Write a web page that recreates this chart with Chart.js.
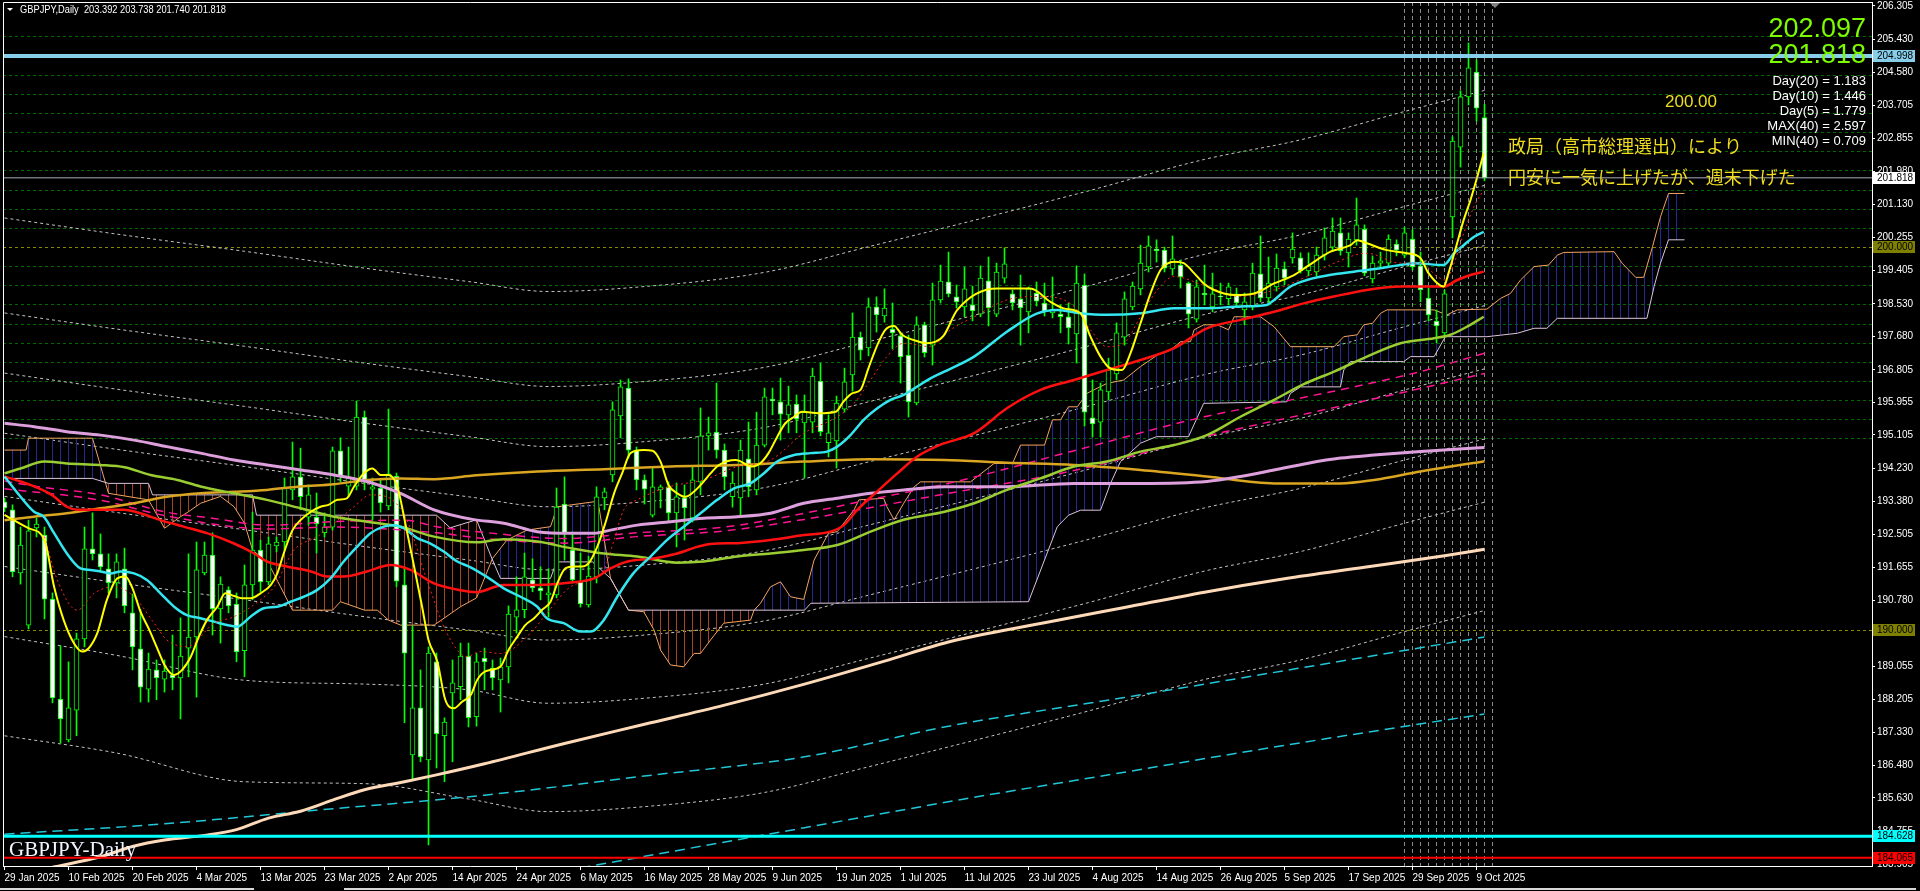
<!DOCTYPE html>
<html>
<head>
<meta charset="utf-8">
<script src="https://cdn.jsdelivr.net/npm/chart.js@4.4.1/dist/chart.umd.min.js"></script>
<style>
html, body { margin: 0; padding: 0; background: #000; }
canvas { display: block; }
</style>
</head>
<body>
<canvas id="chartCanvas" width="1920" height="891"></canvas>
<script>
// ---- candles (one per trading day, index 0 = 29 Jan 2025) ----
const opens = [193.36,193.15,191.50,190.14,192.68,192.49,190.82,188.21,187.14,187.92,189.78,192.13,192.00,191.61,191.24,191.61,190.46,189.52,188.47,188.97,
188.73,188.84,188.76,189.54,189.83,191.50,191.97,190.56,191.06,190.69,189.47,191.19,192.10,191.27,192.21,192.31,193.67,194.01,192.96,192.96,
192.55,192.70,194.69,193.77,193.77,195.57,193.69,193.72,193.25,194.03,191.19,186.75,187.98,186.62,189.18,187.25,188.37,188.53,189.33,187.75,
189.28,189.02,188.71,189.05,190.35,190.54,191.32,191.11,190.93,190.93,193.30,192.10,191.27,190.67,191.40,193.46,194.06,195.60,196.33,194.71,
193.93,193.01,193.67,193.75,193.07,193.46,192.94,193.88,195.08,195.18,194.71,193.49,193.46,194.48,193.67,194.84,196.04,195.97,195.63,195.91,
195.42,195.44,196.51,194.90,194.95,195.78,196.67,197.66,197.38,198.45,198.21,197.87,197.69,197.19,195.94,197.98,197.45,198.63,199.10,198.71,
198.45,198.50,198.26,199.13,198.26,199.20,198.79,198.66,198.32,198.81,198.55,198.29,198.26,198.19,197.74,199.02,195.55,195.44,196.23,196.70,
197.66,198.45,198.92,199.49,199.96,199.93,199.44,199.54,199.07,198.13,198.81,198.45,198.73,198.66,198.79,198.37,198.45,199.31,198.68,198.97,
199.44,199.73,199.73,199.39,199.36,199.80,200.01,200.38,199.86,200.20,200.48,199.18,199.59,199.59,200.09,199.80,200.22,199.52,198.68,198.08,
197.77,200.80,202.62,203.93,204.58,203.392];
const highs = [193.46,193.28,192.70,192.88,192.94,192.70,190.98,189.60,189.18,189.93,192.70,193.07,192.52,192.00,192.00,192.15,190.95,190.54,189.41,189.23,
189.23,189.88,190.33,192.00,192.31,192.31,192.55,191.40,191.14,190.98,191.71,193.09,192.36,192.44,192.44,193.98,194.92,194.76,193.80,193.59,
193.07,194.79,195.03,194.79,195.99,195.73,193.98,193.93,195.78,194.11,191.66,190.12,188.97,189.57,189.41,187.72,189.23,189.67,189.67,189.40,
189.54,189.23,189.28,190.64,191.40,192.02,191.87,191.66,191.61,193.72,194.01,192.57,192.02,191.94,193.75,193.72,195.97,196.54,196.57,194.79,
194.06,194.27,193.80,193.88,193.85,193.80,194.27,195.81,195.57,196.46,194.87,194.14,194.97,195.44,195.70,196.33,196.33,196.59,196.38,196.15,
196.15,196.85,196.98,195.63,196.12,196.85,198.29,197.79,198.68,198.71,198.92,198.55,197.79,197.71,198.19,198.05,199.07,199.54,199.88,199.02,
199.49,198.99,199.52,199.75,199.59,199.99,198.89,199.28,198.97,199.10,199.07,199.23,198.50,198.55,199.52,199.31,196.54,196.46,197.11,198.03,
198.84,199.10,200.06,200.30,200.20,200.01,200.30,199.67,199.10,199.15,199.54,199.33,199.07,199.07,198.94,198.81,199.59,200.30,199.75,199.83,
199.62,200.38,199.86,199.86,200.01,200.51,200.77,200.77,200.38,201.29,200.59,199.78,199.88,200.33,200.20,200.53,200.46,199.88,198.94,198.37,
198.89,202.89,204.09,205.34,204.90,203.738];
const lows = [193.10,191.40,191.21,190.04,192.44,190.30,188.11,187.06,187.09,187.25,189.57,191.84,191.53,190.98,190.85,190.46,188.97,188.13,188.13,188.19,
188.39,188.45,187.69,188.79,188.26,191.45,189.88,189.67,190.46,189.18,188.79,190.80,191.01,191.19,192.05,192.10,193.41,193.15,192.75,192.02,
192.44,192.62,193.88,193.49,193.67,193.67,192.88,193.09,193.15,191.14,187.59,186.10,186.57,184.40,186.41,186.05,186.57,188.19,187.48,187.50,
188.45,188.45,187.87,188.63,189.93,190.33,191.01,190.80,190.35,190.85,191.84,191.24,190.61,190.61,191.24,193.15,193.88,195.03,194.50,193.67,
193.30,192.96,193.20,192.83,192.18,192.36,192.83,193.54,194.71,194.50,193.67,193.22,193.01,193.49,193.54,194.79,195.63,194.97,195.16,195.16,
193.98,195.16,195.08,194.53,194.24,195.70,196.25,197.06,197.17,197.79,198.05,197.35,196.46,195.57,195.89,197.14,196.93,198.55,198.71,198.42,
198.19,198.08,198.19,197.95,198.19,199.07,198.37,197.45,197.77,198.47,198.21,198.16,197.77,197.48,196.98,195.34,195.05,195.05,196.02,196.54,
197.45,198.37,198.76,199.36,199.62,199.36,199.28,198.94,197.90,198.05,198.50,198.32,198.50,198.50,198.45,197.98,198.37,198.58,198.50,198.86,
199.02,199.59,199.33,199.26,199.26,199.67,199.91,199.80,199.49,200.06,199.26,199.07,199.49,199.52,199.78,199.73,199.41,198.58,198.08,197.51,
197.66,200.25,202.10,203.72,203.30,201.740];
const closes = [193.20,191.53,192.23,192.60,192.78,190.82,188.24,187.69,187.98,189.78,192.13,192.00,191.66,191.24,191.79,190.64,189.57,188.52,188.99,188.76,
188.94,188.76,189.33,189.83,191.58,191.97,190.56,191.21,190.64,189.44,191.19,192.10,191.27,192.26,192.31,193.72,194.01,193.49,193.54,192.78,
192.70,194.69,194.01,194.01,195.57,193.88,193.75,193.33,194.09,191.29,189.41,187.98,186.70,189.41,187.30,187.61,188.63,189.33,187.72,189.18,
189.18,188.76,189.05,190.43,190.54,191.40,191.11,191.03,190.98,193.22,192.55,191.32,190.69,191.42,193.49,193.62,195.76,196.36,194.71,193.93,
193.69,193.75,193.75,193.07,193.49,193.20,193.93,195.08,195.16,194.71,194.01,193.85,194.71,193.75,194.84,196.10,195.99,195.65,195.89,195.52,
195.70,196.64,195.19,195.16,195.94,196.49,197.66,197.32,198.45,198.24,198.42,197.77,197.14,195.97,197.98,197.25,198.63,199.12,198.79,198.58,
198.92,198.34,199.20,198.42,199.36,199.57,198.55,198.42,198.92,198.60,198.32,198.39,198.19,197.90,199.07,195.70,195.39,196.28,196.80,197.77,
198.66,198.99,199.59,200.04,199.91,199.46,199.70,199.23,198.26,198.97,198.76,198.79,198.71,198.97,198.55,198.58,199.33,198.68,199.07,199.46,
199.20,199.96,199.39,199.52,199.80,200.25,200.43,199.91,200.22,200.59,199.33,199.59,199.65,200.22,199.93,200.38,199.49,198.89,198.24,197.95,
198.79,202.78,203.93,204.69,203.64,201.818];

// ---- axis labels ----
const dateTickBars = [0,8,16,24,32,40,48,56,64,72,80,88,96,104,112,120,128,136,144,152,160,168,176,184];
const dateLabels = ['29 Jan 2025','10 Feb 2025','20 Feb 2025','4 Mar 2025','13 Mar 2025','23 Mar 2025','2 Apr 2025','14 Apr 2025',
  '24 Apr 2025','6 May 2025','16 May 2025','28 May 2025','9 Jun 2025','19 Jun 2025','1 Jul 2025','11 Jul 2025','23 Jul 2025',
  '4 Aug 2025','14 Aug 2025','26 Aug 2025','5 Sep 2025','17 Sep 2025','29 Sep 2025','9 Oct 2025'];
const priceTicks = [206.305,205.430,204.580,203.705,202.855,201.980,201.130,200.255,199.405,198.530,197.680,196.805,195.955,195.105,
  194.230,193.380,192.505,191.655,190.780,189.930,189.055,188.205,187.330,186.480,185.630,184.755,183.905];

// ---- moving averages, sampled as [bar, price] ----
const yellowMA = [[0,193.02],[3,192.67],[5,192.36],[6.2,191.14],[7.4,190.27],[8.7,189.66],[9.7,189.45],[10.5,189.53],[11.6,189.93],[12.8,190.80],
 [14.1,191.36],[15.1,191.41],[16,191.10],[17,190.49],[18,190.06],[19,189.58],[20.1,189.06],[21.2,188.84],[22.2,188.97],[23.3,189.32],[24.3,189.84],
 [25.3,190.27],[26.6,190.62],[27.6,190.97],[28.7,190.90],[29.7,190.84],[30.8,190.84],[32,190.97],[33.3,191.19],[34.1,191.49],[34.9,192.01],[36,192.62],
 [37,192.88],[38.3,193.10],[39.5,193.23],[40.5,193.28],[41.6,193.41],[42.8,193.45],[43.7,193.76],[44.9,194.10],[46,194.23],[47,194.06],[48,194.06],
 [49.1,193.76],[50.1,192.80],[51.2,191.67],[52.2,190.62],[53,189.75],[54.1,189.19],[55.1,188.19],[56.2,187.97],[57.2,188.14],[58.3,188.32],[59.1,188.71],
 [60.1,188.93],[62,189.06],[63,189.49],[64.1,189.84],[65.1,190.14],[66.2,190.32],[67.2,190.54],[68.25,190.75],[69.1,191.23],[70.1,191.62],[71.2,191.67],
 [72.2,191.67],[73,191.75],[74.1,192.19],[75.1,192.80],[76.2,193.58],[77.2,194.10],[78.25,194.63],[79.9,194.71],[81,194.69],[82,194.41],[83,193.80],
 [84.1,193.58],[85.1,193.49],[86.2,193.63],[87.2,193.84],[88.25,194.10],[89.3,194.32],[91.4,194.45],[93.5,194.28],[94.5,194.37],[95.5,194.63],
 [96.6,195.06],[97.6,195.41],[98.7,195.58],[99.7,195.71],[101.8,195.67],[103.9,195.71],[104.9,195.98],[105.95,196.19],[107,196.28],[108,196.85],
 [109.1,197.45],[110.1,197.85],[111.2,197.95],[112.2,197.72],[114.3,197.54],[115.3,197.50],[116.4,197.54],[117.4,197.70],[119.1,198.37],[124.1,198.93],
 [128.25,198.93],[130.75,198.58],[132.4,198.41],[134.5,198.28],[135.75,197.67],[137,197.15],[138.25,196.84],[139.7,196.80],[140.75,197.24],[142,198.02],
 [143.25,198.80],[144.5,199.41],[146.2,199.63],[147.4,199.59],[148.7,199.33],[149.9,199.06],[151.2,198.89],[153.7,198.76],[156.2,198.80],[158.7,199.06],
 [161.2,199.28],[162.8,199.50],[165.75,199.89],[168.25,200.06],[169.1,200.19],[170.3,200.11],[172.8,199.93],[175.3,199.85],[177,199.72],[178,199.33],
 [179.9,198.98],[180.5,199.33],[181.4,199.98],[182.4,200.72],[183.25,201.24],[184.1,201.85],[184.9,202.46]];
const redDotted = [[5,192.45],[6.6,191.32],[9.1,190.53],[11.2,190.97],[13.7,191.14],[16.2,190.88],[18.7,190.19],[20.3,189.75],[22.8,189.58],[26.2,190.19],
 [28.7,190.36],[32,190.80],[33.7,191.14],[36.2,192.10],[39.1,192.45],[41.2,192.80],[43.7,193.23],[45.75,193.54],[47.8,193.49],[50.3,192.88],[52.8,191.32],
 [55.3,189.93],[57.8,189.32],[59.5,189.45],[62,189.40],[65.75,189.93],[67.8,190.45],[70.75,191.14],[74.9,191.58],[76.2,192.36],[77.4,193.15],[79.1,193.41],
 [83.25,193.76],[87.4,193.93],[91.6,194.28],[95.75,194.45],[99.9,195.15],[104.1,195.58],[106.2,195.93],[108.25,196.54],[110.3,197.15],[112.4,197.50],
 [115.75,197.41],[118.25,197.85],[121.2,198.19],[125.3,198.63],[129.5,198.72],[133.7,198.46],[135.75,197.85],[137.8,197.41],[139.9,197.50],[142,198.19],
 [144.1,198.89],[146.2,199.24],[150.3,198.98],[154.5,198.72],[158.7,198.89],[162.8,199.24],[166.2,199.59],[170.3,199.85],[174.5,199.59],[177,199.59],
 [179.1,199.24],[180.1,199.15],[181.2,199.59],[182.4,200.37],[183.7,201.07],[184.9,201.50]];
const cyanMA = [[0,194.02],[2,193.49],[3.7,193.10],[4.9,192.97],[6.2,192.54],[7.8,192.01],[9.5,191.62],[10.75,191.58],[12,191.54],[13.25,191.49],
 [14.5,191.54],[16.2,191.49],[17.8,191.32],[19.5,190.97],[21.2,190.62],[22.8,190.40],[24.5,190.32],[26.2,190.23],[27.8,190.14],[29.1,190.10],[30.75,190.36],
 [32.4,190.58],[34.1,190.62],[35.75,190.75],[37.4,190.88],[39.1,191.06],[40.75,191.36],[42.4,191.80],[44.1,192.19],[45.75,192.54],[47.4,192.71],
 [48.7,192.75],[49.9,192.67],[51.6,192.41],[53.25,192.27],[54.9,192.06],[56.6,191.80],[58.25,191.65],[60.3,191.40],[62.4,191.10],[64.5,190.88],
 [66.6,190.62],[67.8,190.32],[69.9,190.19],[72,189.97],[73.25,189.97],[74.9,190.27],[76.6,190.88],[78.6,191.49],[80.75,191.93],[82.8,192.36],[84.9,192.71],
 [87,193.06],[89.1,193.41],[91.2,193.71],[93.25,193.84],[94.9,194.10],[96.6,194.41],[98.7,194.58],[100.75,194.63],[102.8,194.67],[104.1,194.80],
 [105.75,195.10],[107.4,195.50],[109.1,195.80],[110.75,196.02],[112.4,196.15],[114.1,196.37],[115.75,196.58],[117.4,196.75],[121.2,197.15],[125.3,197.80],
 [129.1,198.28],[131.6,198.37],[134.5,198.28],[137.8,198.24],[142,198.28],[146.2,198.41],[150.3,198.41],[154.5,198.46],[157.8,198.50],[158.7,198.63],
 [160.75,198.98],[162.8,199.15],[166.2,199.30],[170.3,199.41],[174.5,199.54],[176.2,199.59],[179.9,199.54],[181.2,199.85],[182.4,200.06],[183.7,200.28],
 [184.9,200.41]];
const redMA = [[0,194.02],[2,193.89],[3.7,193.76],[5.9,193.54],[7.8,193.23],[9.1,193.15],[14.9,193.15],[17,193.06],[19.5,192.88],[22.4,192.71],[25.3,192.54],
 [28.7,192.27],[31.2,192.01],[32.8,191.80],[35.3,191.67],[38.3,191.54],[40.3,191.41],[42.4,191.41],[45.3,191.54],[48.25,191.71],[50.75,191.58],
 [53.7,191.23],[57,191.05],[59,191.00],[62.4,191.19],[66.6,191.19],[70.75,191.25],[73.7,191.36],[75.75,191.62],[77.9,191.80],[81.2,191.88],[84.1,192.01],
 [86.7,192.19],[88.25,192.26],[91.6,192.28],[95.75,192.36],[99.9,192.49],[103.25,192.58],[104.9,192.75],[106.6,193.15],[109.1,193.63],[111.6,194.10],
 [114.1,194.54],[117,194.85],[121.2,195.15],[125.3,195.80],[129.5,196.28],[133.7,196.54],[137.8,196.80],[142,197.06],[146.2,197.37],[150.3,197.89],
 [154.5,198.11],[158.7,198.32],[162.4,198.54],[166.2,198.72],[170.3,198.89],[174.5,198.98],[179.9,198.98],[181.6,199.15],[183.25,199.28],[184.9,199.37]];
const greenMA = [[0,194.10],[2,194.23],[5,194.41],[7.8,194.36],[12,194.32],[15,194.26],[18.25,194.06],[21.6,193.93],[24.5,193.76],[28.7,193.58],[32.8,193.41],
 [37,193.19],[41.2,192.97],[45.3,192.84],[49.5,192.71],[53.7,192.45],[59,192.30],[62.4,192.38],[66.6,192.32],[70.75,192.15],[74.9,192.01],[79.1,191.93],
 [84.1,191.77],[87.4,191.80],[91.6,191.93],[95.75,192.01],[99.9,192.10],[104.1,192.23],[108.25,192.58],[112.4,192.89],[117.5,193.10],[121.2,193.32],
 [125.3,193.67],[129.5,193.97],[133.7,194.28],[137.8,194.41],[142,194.67],[146.2,194.84],[150.3,195.10],[154.5,195.58],[158.7,196.02],[162.4,196.43],
 [166.2,196.76],[170.3,197.15],[174.5,197.50],[178.7,197.63],[180.75,197.72],[182.8,197.93],[184.9,198.19]];
const plumMA = [[0,195.41],[3.7,195.32],[7.8,195.19],[12,195.10],[16.2,194.97],[20.3,194.80],[24.5,194.63],[28.7,194.45],[32.8,194.32],[37,194.19],
 [41.2,194.06],[45.3,193.89],[49.5,193.58],[53.7,193.15],[58.5,192.90],[62.4,192.80],[66.6,192.58],[70.75,192.54],[73.7,192.54],[75.75,192.62],
 [79.1,192.75],[83.25,192.84],[87.4,192.93],[91.6,192.97],[95.75,193.06],[99.9,193.32],[104.1,193.45],[108.25,193.58],[112.4,193.67],[117.5,193.75],
 [125.3,193.75],[133.7,193.84],[142,193.84],[150.3,193.89],[154.5,194.02],[158.7,194.19],[162.8,194.36],[167,194.50],[171.2,194.58],[177,194.67],[185,194.78]];
const orangeMA = [[0,192.88],[3.7,192.97],[7.8,193.06],[12,193.19],[16.2,193.32],[20.3,193.49],[24.5,193.58],[28.7,193.62],[32.8,193.67],[37,193.76],
 [41.2,193.82],[45.3,193.93],[49.5,193.97],[53.7,193.95],[59,194.05],[66.6,194.15],[74.9,194.21],[83.25,194.28],[91.6,194.32],[99.9,194.41],
 [108.25,194.47],[117.5,194.45],[125.3,194.38],[133.7,194.32],[142,194.19],[150.3,194.02],[158.7,193.84],[167,193.84],[171.2,193.93],[177,194.15],[185,194.42]];
const peachMA = [[6,183.82],[7,183.86],[12,184.09],[16,184.36],[20,184.53],[25,184.65],[29,184.80],[33,185.10],[37,185.28],[41,185.57],[45,185.84],
 [50,186.05],[54,186.23],[60,186.52],[70,187.05],[80,187.55],[90,188.05],[100,188.60],[110,189.20],[118,189.70],[130,190.20],[140,190.60],[150,191.00],
 [160,191.35],[170,191.65],[180,191.95],[185,192.12]];
const pinkUpper = [[0,193.90],[4,193.76],[12,193.54],[20,193.10],[26,192.93],[33,192.75],[41,192.84],[50,192.88],[54,192.71],[60,192.56],[70,192.40],
 [79,192.55],[90,192.70],[100,193.06],[108,193.41],[118,193.84],[134,194.71],[150,195.58],[163,196.11],[177,196.76],[185,197.24]];
const pinkLower = [[0,193.70],[12,193.40],[20,193.00],[33,192.65],[41,192.70],[54,192.55],[60,192.40],[70,192.28],[79,192.45],[90,192.60],[100,192.90],
 [108,193.20],[118,193.58],[134,194.19],[150,195.06],[163,195.67],[177,196.32],[185,196.71]];
const cyanDashUpper = [[0,184.68],[20,184.95],[37,185.27],[60,185.70],[80,186.20],[100,186.70],[118,187.50],[140,188.25],[160,188.95],[185,189.83]];
const cyanDashLower = [[72,183.80],[100,184.85],[120,185.60],[140,186.30],[160,187.00],[185,187.82]];

// ---- envelope bands (white dotted), top to bottom ----
const envelopes = [
  [[0,200.77],[14,200.35],[30,199.90],[45,199.46],[58,199.11],[68,198.85],[80,198.98],[95,199.35],[108,200.02],[118,200.54],[135,201.45],[150,202.30],[162,202.81],[175,203.55],[185,204.10]],
  [[0,198.29],[14,197.87],[30,197.42],[45,196.98],[58,196.63],[68,196.37],[80,196.50],[95,196.87],[108,197.54],[118,198.06],[135,198.97],[150,199.82],[162,200.33],[175,201.07],[185,201.62]],
  [[0,196.72],[14,196.30],[30,195.85],[45,195.41],[58,195.06],[68,194.80],[80,194.93],[95,195.30],[108,195.97],[118,196.49],[135,197.40],[150,198.25],[162,198.76],[175,199.50],[185,200.05]],
  [[0,195.15],[14,194.73],[30,194.28],[45,193.84],[58,193.49],[68,193.23],[80,193.36],[95,193.73],[108,194.40],[118,194.92],[135,195.83],[150,196.68],[162,197.19],[175,197.93],[185,198.48]],
  [[0,193.50],[14,193.08],[30,192.63],[45,192.19],[58,191.84],[68,191.58],[80,191.71],[95,192.08],[108,192.75],[118,193.27],[135,194.18],[150,195.03],[162,195.54],[175,196.28],[185,196.83]],
  [[0,191.67],[14,191.25],[30,190.80],[45,190.36],[58,190.01],[68,189.75],[80,189.88],[95,190.25],[108,190.92],[118,191.44],[135,192.35],[150,193.20],[162,193.71],[175,194.45],[185,195.00]],
  [[0,189.84],[14,189.35],[30,188.70],[45,188.60],[58,188.45],[68,188.10],[80,188.23],[95,188.60],[108,189.27],[118,189.79],[135,190.70],[150,191.55],[162,192.06],[175,192.80],[185,193.35]],
  [[0,187.25],[14,186.80],[30,186.05],[45,186.00],[58,185.60],[68,185.27],[80,185.40],[95,185.77],[108,186.44],[118,186.96],[135,187.87],[150,188.72],[162,189.23],[175,189.97],[185,190.52]]
];

// ---- ichimoku cloud spans (shifted forward) ----
const spanA = [[0,194.71],[2.7,194.71],[3,195.02],[11,195.02],[13,193.58],[18,193.41],[20,192.67],[22,192.97],[23,193.10],[24.5,193.32],[27,193.50],
 [28.7,193.23],[30,192.80],[31,192.10],[33,191.75],[34.5,191.14],[36,190.53],[41,190.53],[42,190.75],[45,190.53],[46.6,190.53],[48,190.27],[49.5,190.14],
 [53.7,190.14],[57,190.62],[59,190.85],[61,191.88],[62.8,192.36],[65.3,192.62],[68.25,192.71],[69.1,193.23],[73.7,193.36],[74.3,193.23],[75.75,191.36],
 [78,190.53],[79.9,190.49],[81.2,190.01],[82,189.49],[83.25,189.10],[84.9,189.05],[86.2,189.40],[87,189.40],[88.25,189.75],[89.9,190.19],[93.25,190.27],
 [93.7,190.53],[94.5,190.71],[95.75,191.14],[97,191.27],[98.25,190.88],[99.9,190.81],[101.2,191.84],[102,192.15],[103,192.54],[104.1,192.58],[106.2,193.15],
 [106.8,193.41],[109.9,193.45],[110.3,193.23],[111.2,192.89],[112.4,193.32],[113.7,193.75],[114.5,193.88],[120.75,193.88],[123.7,194.36],[126,194.36],
 [127,194.84],[130,194.84],[131,195.50],[132,195.50],[133,195.84],[134.1,195.84],[135.3,196.19],[137.8,196.45],[139.9,196.54],[142,196.89],[144.1,197.19],
 [145.75,197.32],[147,197.54],[148.25,197.54],[148.7,197.85],[149.9,197.98],[151.6,197.98],[153,197.85],[153.7,198.19],[157,198.19],[158.7,197.93],
 [160.75,197.41],[166.2,197.41],[167.4,197.67],[169.1,197.72],[169.9,197.98],[171,198.02],[172,198.28],[172.8,198.37],[178.7,198.37],[180.3,198.24],
 [181.6,198.37],[185.3,198.39],[187,198.67],[188.25,198.80],[189.5,199.15],[191.2,199.50],[193,199.54],[194.1,199.80],[194.9,199.87],[201.2,199.89],
 [202.2,199.59],[203.9,199.22],[204.9,199.22],[206,200.02],[207,200.80],[208,201.41],[210,201.41]];
const spanB = [[0,193.97],[11,193.97],[13,193.84],[18,193.84],[18.5,193.54],[31,193.54],[31.5,193.01],[54,193.01],[55.7,192.68],[59,192.89],[61,191.84],
 [62,191.36],[68.25,191.36],[69,191.79],[73.5,191.79],[75.75,191.36],[78,190.53],[100,190.53],[100.8,190.71],[128,190.75],[131.6,192.71],[133,193.01],
 [134.5,193.14],[137,193.14],[138.25,193.84],[139.5,194.41],[142,194.89],[144,195.06],[148,195.06],[149.9,195.93],[160.3,195.97],[160.75,196.19],
 [162,196.36],[167,196.36],[167.4,196.80],[168.25,197.02],[174.9,197.02],[175.75,197.15],[178.7,197.15],[180.1,197.67],[185.3,197.67],[187,197.71],
 [189.1,197.76],[191.2,197.89],[192.8,197.89],[194.1,198.15],[205.3,198.15],[206.2,198.98],[207,199.59],[208,200.20],[210,200.20]];

// ---- horizontal levels and markers ----
const gridLevels = [195.0,195.5,196.0,196.5,197.0,197.5,198.0,198.5,199.0,199.5,200.5,201.0,201.5,202.0,202.5,203.0,203.5,204.0,204.5,205.0,205.5];
const roundLevels = [200.0, 190.0];
const priceLevels = [204.998, 201.818, 184.628, 184.065];
const boxLevels = [204.998, 201.818, 200.000, 190.000, 184.628, 184.065];
const markerBars = [175,176,177,178,179,180,181,182,183,184,185,186];

const toXY = pts => pts.map(p => ({ x: p[0], y: p[1] }));

function hatch(color) {
  const c = document.createElement('canvas');
  c.width = 8; c.height = 4;
  const g = c.getContext('2d');
  g.fillStyle = color;
  g.fillRect(4, 0, 1, 4);
  return g.createPattern(c, 'repeat');
}

function maLine(pts, color, width, dash, order) {
  return {
    type: 'line', data: toXY(pts), borderColor: color, borderWidth: width,
    borderDash: dash || [], pointRadius: 0, fill: false,
    cubicInterpolationMode: 'monotone', order: order
  };
}

const datasets = [];
envelopes.forEach(e => datasets.push(maLine(e, '#c4c4c4', 1, [3, 3], 40)));
const idxA = datasets.length;
datasets.push({
  type: 'line', data: toXY(spanA), borderColor: '#f4a460', borderWidth: 1, pointRadius: 0, tension: 0,
  fill: { target: idxA + 1, above: hatch('#262696'), below: hatch('#a8402a') }, order: 30
});
datasets.push({ type: 'line', data: toXY(spanB), borderColor: '#dcc4dc', borderWidth: 1, pointRadius: 0, tension: 0, fill: false, order: 29 });
datasets.push({
  type: 'bar', data: highs.map((h, i) => ({ x: i, y: [lows[i], h] })),
  backgroundColor: '#00ff00', borderWidth: 0, barThickness: 1, grouped: false, order: 21
});
datasets.push({
  type: 'bar', data: opens.map((o, i) => ({ x: i, y: [o, closes[i]] })),
  backgroundColor: closes.map((c, i) => c >= opens[i] ? '#000000' : '#ffffff'),
  borderColor: '#00ff00', borderWidth: 1, borderSkipped: false, barThickness: 5, grouped: false, order: 20
});
datasets.push(maLine(peachMA, '#ffdab9', 3, null, 12));
datasets.push(maLine(cyanDashUpper, '#20c8d8', 1.5, [10, 6], 12));
datasets.push(maLine(cyanDashLower, '#20c8d8', 1.5, [10, 6], 12));
datasets.push(maLine(pinkUpper, '#ff1493', 1.5, [8, 6], 11));
datasets.push(maLine(pinkLower, '#ff1493', 1.5, [8, 6], 11));
datasets.push(maLine(orangeMA, '#daa520', 2.5, null, 9));
datasets.push(maLine(plumMA, '#dda0dd', 3, null, 8));
datasets.push(maLine(greenMA, '#9acd32', 2.5, null, 7));
datasets.push(maLine(redMA, '#ff1010', 2.5, null, 6));
datasets.push(maLine(cyanMA, '#33e6f0', 2.5, null, 5));
datasets.push(maLine(redDotted, '#ff2020', 1, [2, 3], 4));
datasets.push(maLine(yellowMA, '#ffff00', 2, null, 3));

const overlay = {
  id: 'overlay',
  beforeDatasetsDraw(chart) {
    const { ctx, chartArea: a, scales: { x, y } } = chart;
    ctx.save();
    ctx.beginPath(); ctx.rect(a.left, a.top, a.right - a.left, a.bottom - a.top); ctx.clip();
    ctx.lineWidth = 1;
    ctx.setLineDash([3, 3]);
    ctx.strokeStyle = '#006a00';
    gridLevels.forEach(v => {
      const py = Math.floor(y.getPixelForValue(v)) + 0.5;
      ctx.beginPath(); ctx.moveTo(a.left, py); ctx.lineTo(a.right, py); ctx.stroke();
    });
    ctx.strokeStyle = '#8a8a00';
    roundLevels.forEach(v => {
      const py = Math.floor(y.getPixelForValue(v)) + 0.5;
      ctx.beginPath(); ctx.moveTo(a.left, py); ctx.lineTo(a.right, py); ctx.stroke();
    });
    ctx.strokeStyle = '#8c8c8c';
    ctx.setLineDash([4, 3]);
    markerBars.forEach(i => {
      const px = Math.floor(x.getPixelForValue(i)) + 0.5;
      ctx.beginPath(); ctx.moveTo(px, a.top); ctx.lineTo(px, a.bottom); ctx.stroke();
    });
    ctx.restore();
  },
  afterDatasetsDraw(chart) {
    const { ctx, chartArea: a, scales: { y } } = chart;
    const colors = ['#87ceeb', '#a9b0b8', '#00ffff', '#ff0000'];
    const widths = [4, 1, 3, 2];
    ctx.save();
    priceLevels.forEach((v, k) => {
      const py = y.getPixelForValue(v);
      ctx.strokeStyle = colors[k]; ctx.lineWidth = widths[k];
      ctx.beginPath(); ctx.moveTo(a.left, py); ctx.lineTo(a.right, py); ctx.stroke();
    });
    ctx.restore();
  },
  afterDraw(chart) {
    const { ctx, chartArea: a, scales: { y } } = chart;
    ctx.save();
    // frame
    ctx.strokeStyle = '#ffffff'; ctx.lineWidth = 1;
    ctx.beginPath();
    ctx.moveTo(a.left + 0.5, a.bottom); ctx.lineTo(a.left + 0.5, a.top + 0.5); ctx.lineTo(a.right, a.top + 0.5);
    ctx.stroke();
    ctx.fillStyle = '#d8d8d8';
    ctx.fillRect(0, 888, 254, 2);
    ctx.fillRect(344, 888, 1572, 2);
    // shift marker
    ctx.fillStyle = '#808080';
    ctx.beginPath(); ctx.moveTo(1490, 3); ctx.lineTo(1500, 3); ctx.lineTo(1495, 8); ctx.closePath(); ctx.fill();
    // title
    ctx.fillStyle = '#ffffff';
    ctx.beginPath(); ctx.moveTo(7, 8); ctx.lineTo(13, 8); ctx.lineTo(10, 11); ctx.closePath(); ctx.fill();
    ctx.font = '11px "Liberation Sans"';
    ctx.textBaseline = 'alphabetic'; ctx.textAlign = 'left';
    ctx.fillText('GBPJPY,Daily  203.392 203.738 201.740 201.818', 20, 13, 206);
    // symbol stamp
    ctx.font = '21px "Liberation Serif"';
    ctx.fillStyle = '#f0f4ff';
    ctx.fillText('GBPJPY-Daily', 9, 856);
    // big readouts
    ctx.textAlign = 'right';
    ctx.fillStyle = '#7cfc00';
    ctx.font = '27px "Liberation Sans"';
    ctx.fillText('202.097', 1866, 37);
    ctx.fillText('201.818', 1866, 63);
    ctx.fillStyle = '#ffffff';
    ctx.font = '13px "Liberation Sans"';
    ['Day(20) = 1.183', 'Day(10) = 1.446', 'Day(5) = 1.779', 'MAX(40) = 2.597', 'MIN(40) = 0.709']
      .forEach((t, k) => ctx.fillText(t, 1866, 85 + k * 15));
    // annotations
    ctx.textAlign = 'left';
    ctx.fillStyle = '#f0dc1e';
    ctx.font = '17px "Liberation Sans"';
    ctx.fillText('200.00', 1665, 107);
    ctx.font = '18px "Noto Sans CJK JP"';
    ctx.fillText('政局（高市総理選出）により', 1508, 153);
    ctx.fillText('円安に一気に上げたが、週末下げた', 1508, 184);
    // price boxes on the axis
    const boxColors = ['#87ceeb', '#ffffff', '#808000', '#808000', '#00ffff', '#ff0000'];
    ctx.font = '10px "Liberation Sans"';
    ctx.textBaseline = 'middle';
    boxLevels.forEach((v, k) => {
      const py = Math.round(y.getPixelForValue(v));
      ctx.fillStyle = boxColors[k];
      ctx.fillRect(a.right + 1, py - 6, 42, 12);
      ctx.fillStyle = '#000000';
      ctx.fillText(v.toFixed(3), a.right + 5, py + 0.5);
    });
    ctx.restore();
  }
};

const ctx = document.getElementById('chartCanvas').getContext('2d');
const chart = new Chart(ctx, {
  type: 'line',
  data: { datasets: datasets },
  options: {
    responsive: false,
    animation: false,
    devicePixelRatio: 1,
    layout: { padding: { left: 3, top: 2, right: 0, bottom: 0 } },
    plugins: { legend: { display: false }, tooltip: { enabled: false } },
    scales: {
      x: {
        type: 'linear', min: -0.1875, max: 233.4375, offset: false,
        afterBuildTicks: s => { s.ticks = dateTickBars.map(v => ({ value: v })); },
        afterFit: s => { s.height = 25; s.paddingLeft = 0; s.paddingRight = 0; },
        ticks: {
          color: '#ffffff', font: { family: 'Liberation Sans', size: 10 }, align: 'start',
          padding: 2, autoSkip: false, maxRotation: 0, callback: (v, k) => dateLabels[k]
        },
        grid: { drawOnChartArea: false, offset: false, color: '#ffffff', tickLength: 4 },
        border: { display: true, color: '#ffffff' }
      },
      y: {
        type: 'linear', position: 'right', min: 183.85, max: 206.409, beginAtZero: false,
        afterBuildTicks: s => { s.ticks = priceTicks.map(v => ({ value: v })); },
        afterFit: s => { s.width = 48; s.paddingTop = 0; s.paddingBottom = 0; },
        ticks: {
          color: '#ffffff', font: { family: 'Liberation Sans', size: 10 }, padding: 2,
          autoSkip: false, callback: v => v.toFixed(3)
        },
        grid: { drawOnChartArea: false, color: '#ffffff', tickLength: 3 },
        border: { display: true, color: '#ffffff' }
      }
    }
  },
  plugins: [overlay]
});
</script>
</body>
</html>
